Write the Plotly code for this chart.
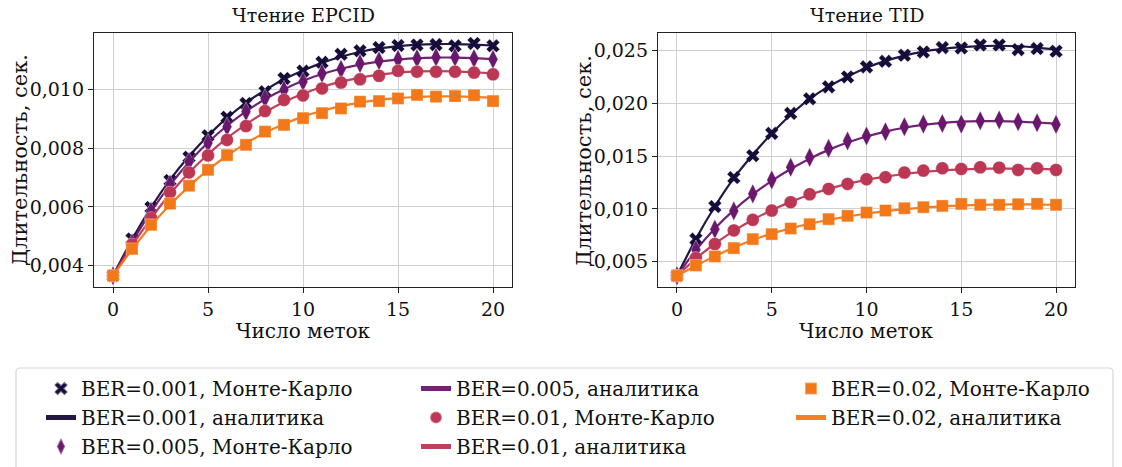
import plotly.graph_objects as go

x_tags = list(range(21))

ber_labels = ["0.001", "0.005", "0.01", "0.02"]
colors = ["#170c3a", "#6a176e", "#bc3754", "#f37819"]
symbols = ["x", "diamond-tall", "circle", "square"]

# Чтение EPCID — Монте-Карло
epcid_mc_0001 = [0.00366, 0.00491, 0.00598, 0.00690, 0.00769, 0.00842, 0.00905, 0.00952, 0.00992, 0.01037, 0.01062,
                 0.01092, 0.01119, 0.01131, 0.01142, 0.01149, 0.01151, 0.01152, 0.01148, 0.01156, 0.01148]
epcid_mc_0005 = [0.00366, 0.00477, 0.00585, 0.00677, 0.00754, 0.00817, 0.00873, 0.00924, 0.00969, 0.00998, 0.01026,
                 0.01054, 0.01068, 0.01088, 0.01097, 0.01102, 0.01105, 0.01109, 0.01109, 0.01105, 0.01102]
epcid_mc_001 = [0.00366, 0.00472, 0.00562, 0.00649, 0.00717, 0.00775, 0.00828, 0.00875, 0.00926, 0.00964, 0.00979,
                0.01003, 0.01023, 0.01034, 0.01046, 0.01063, 0.01060, 0.01060, 0.01060, 0.01057, 0.01051]
epcid_mc_002 = [0.00366, 0.00457, 0.00539, 0.00611, 0.00672, 0.00726, 0.00776, 0.00811, 0.00856, 0.00879, 0.00902,
                0.00919, 0.00935, 0.00958, 0.00960, 0.00969, 0.00981, 0.00975, 0.00977, 0.00980, 0.00960]
# Чтение EPCID — аналитика
epcid_an_0001 = [0.00366, 0.00489, 0.00598, 0.00692, 0.00772, 0.00842, 0.00903, 0.00954, 0.00997, 0.01034, 0.01064,
                 0.01090, 0.01111, 0.01127, 0.01139, 0.01147, 0.01152, 0.01154, 0.01154, 0.01152, 0.01149]
epcid_an_0005 = [0.00366, 0.00480, 0.00583, 0.00674, 0.00752, 0.00819, 0.00876, 0.00925, 0.00966, 0.01000, 0.01029,
                 0.01052, 0.01070, 0.01084, 0.01094, 0.01101, 0.01106, 0.01108, 0.01108, 0.01106, 0.01103]
epcid_an_001 = [0.00366, 0.00468, 0.00561, 0.00644, 0.00716, 0.00779, 0.00834, 0.00881, 0.00922, 0.00957, 0.00985,
                0.01008, 0.01026, 0.01040, 0.01050, 0.01057, 0.01061, 0.01062, 0.01061, 0.01058, 0.01054]
epcid_an_002 = [0.00366, 0.00455, 0.00536, 0.00607, 0.00670, 0.00726, 0.00774, 0.00816, 0.00852, 0.00882, 0.00907,
                0.00927, 0.00943, 0.00955, 0.00964, 0.00970, 0.00974, 0.00976, 0.00976, 0.00974, 0.00971]

# Чтение TID — Монте-Карло
tid_mc_0001 = [0.00368, 0.00714, 0.01022, 0.01296, 0.01503, 0.01714, 0.01903, 0.02041, 0.02154, 0.02248, 0.02343,
               0.02396, 0.02453, 0.02484, 0.02525, 0.02522, 0.02550, 0.02550, 0.02506, 0.02516, 0.02491]
tid_mc_0005 = [0.00368, 0.00613, 0.00808, 0.00981, 0.01142, 0.01274, 0.01393, 0.01487, 0.01572, 0.01642, 0.01689,
               0.01730, 0.01777, 0.01802, 0.01808, 0.01802, 0.01833, 0.01840, 0.01824, 0.01814, 0.01799]
tid_mc_001 = [0.00368, 0.00535, 0.00667, 0.00796, 0.00896, 0.00984, 0.01063, 0.01138, 0.01189, 0.01236, 0.01280,
              0.01299, 0.01343, 0.01362, 0.01384, 0.01377, 0.01393, 0.01390, 0.01368, 0.01384, 0.01368]
tid_mc_002 = [0.00368, 0.00465, 0.00550, 0.00629, 0.00714, 0.00761, 0.00814, 0.00855, 0.00903, 0.00934, 0.00965,
              0.00984, 0.01006, 0.01016, 0.01028, 0.01047, 0.01038, 0.01038, 0.01044, 0.01047, 0.01038]
# Чтение TID — аналитика
tid_an_0001 = [0.00368, 0.00716, 0.01022, 0.01290, 0.01512, 0.01712, 0.01890, 0.02040, 0.02156, 0.02252, 0.02335,
               0.02400, 0.02450, 0.02488, 0.02513, 0.02530, 0.02540, 0.02543, 0.02538, 0.02525, 0.02505]
tid_an_0005 = [0.00368, 0.00610, 0.00815, 0.00988, 0.01136, 0.01265, 0.01377, 0.01475, 0.01558, 0.01627, 0.01684,
               0.01731, 0.01767, 0.01794, 0.01813, 0.01825, 0.01830, 0.01830, 0.01825, 0.01817, 0.01806]
tid_an_001 = [0.00368, 0.00530, 0.00670, 0.00792, 0.00897, 0.00988, 0.01066, 0.01133, 0.01189, 0.01236, 0.01274,
              0.01305, 0.01330, 0.01349, 0.01363, 0.01373, 0.01379, 0.01381, 0.01381, 0.01378, 0.01373]
tid_an_002 = [0.00368, 0.00462, 0.00553, 0.00635, 0.00706, 0.00766, 0.00816, 0.00859, 0.00896, 0.00928, 0.00955,
              0.00978, 0.00997, 0.01012, 0.01024, 0.01032, 0.01038, 0.01041, 0.01042, 0.01041, 0.01039]

epcid_mc = [epcid_mc_0001, epcid_mc_0005, epcid_mc_001, epcid_mc_002]
epcid_an = [epcid_an_0001, epcid_an_0005, epcid_an_001, epcid_an_002]
tid_mc = [tid_mc_0001, tid_mc_0005, tid_mc_001, tid_mc_002]
tid_an = [tid_an_0001, tid_an_0005, tid_an_001, tid_an_002]

FONT = "DejaVu Serif"
W, H = 1122, 467

# legend order: matplotlib fills 3 columns column-major; plotly fills rows
mc_rank = [1, 7, 5, 3]
an_rank = [4, 2, 8, 6]
marker_sizes = [12, 14, 13, 12]

fig = go.Figure()
for panel, (mc_list, an_list, xa, ya) in enumerate([(epcid_mc, epcid_an, "x", "y"), (tid_mc, tid_an, "x2", "y2")]):
    for i in range(4):
        fig.add_trace(go.Scatter(
            x=x_tags, y=mc_list[i], mode="markers", xaxis=xa, yaxis=ya,
            name=f"BER={ber_labels[i]}, Монте-Карло",
            marker=dict(symbol=symbols[i], size=marker_sizes[i], color=colors[i],
                        line=dict(width=1, color="rgba(255,255,255,0.35)")),
            showlegend=(panel == 0), legendrank=mc_rank[i]))
        fig.add_trace(go.Scatter(
            x=x_tags, y=an_list[i], mode="lines", xaxis=xa, yaxis=ya,
            name=f"BER={ber_labels[i]}, аналитика",
            line=dict(color=colors[i], width=2.2, shape="spline", smoothing=0.6),
            opacity=0.95,
            showlegend=(panel == 0), legendrank=an_rank[i]))

axis_common = dict(showline=True, mirror=True, linecolor="#222", linewidth=1.3,
                   ticks="outside", ticklen=5, tickcolor="#222", tickwidth=1.2,
                   showgrid=True, gridcolor="#cfcfcf", gridwidth=1.3, automargin=False,
                   zeroline=False, tickfont=dict(family=FONT, size=19, color="#111"))

L0, L1 = 94 / W, 512 / W
R0, R1 = 658 / W, 1075 / W
B, T = 1 - 287 / H, 1 - 33 / H

fig.update_layout(
    width=W, height=H, margin=dict(l=0, r=0, t=0, b=0, autoexpand=False),
    paper_bgcolor="white", plot_bgcolor="white",
    separators=", ",
    font=dict(family=FONT, size=18, color="#111"),
    xaxis=dict(domain=[L0, L1], range=[-1, 21], tickvals=[0, 5, 10, 15, 20], anchor="y", **axis_common),
    yaxis=dict(domain=[B, T], range=[0.003275, 0.011916], tick0=0.004, dtick=0.002, tickformat=".3f",
               anchor="x", **axis_common),
    xaxis2=dict(domain=[R0, R1], range=[-1, 21], tickvals=[0, 5, 10, 15, 20], anchor="y2", **axis_common),
    yaxis2=dict(domain=[B, T], range=[0.00261, 0.026635], tick0=0.005, dtick=0.005, tickformat=".3f",
                anchor="x2", **axis_common),
    legend=dict(orientation="h", x=41 / W, xanchor="left", y=1 - 369 / H, yanchor="top",
                entrywidth=330, entrywidthmode="pixels",
                borderwidth=0, bgcolor="rgba(0,0,0,0)",
                font=dict(family=FONT, size=20, color="#111"), tracegroupgap=0,
                itemsizing="constant"),
    shapes=[dict(type="path", xref="paper", yref="paper", layer="below",
                 path=f"M {20 / W},{1 - 368 / H} L {1109 / W},{1 - 368 / H} "
                      f"Q {1113 / W},{1 - 368 / H} {1113 / W},{1 - 372 / H} L {1113 / W},{-0.05} "
                      f"L {16 / W},{-0.05} L {16 / W},{1 - 372 / H} Q {16 / W},{1 - 368 / H} {20 / W},{1 - 368 / H} Z",
                 line=dict(color="#d6d6d6", width=1.2), fillcolor="white")],
)

ann = [
    dict(text="Чтение EPCID", x=(94 + 512) / 2 / W, y=1 - 15 / H, size=19),
    dict(text="Чтение TID", x=(658 + 1075) / 2 / W, y=1 - 15 / H, size=19),
    dict(text="Число меток", x=(94 + 512) / 2 / W, y=1 - 331 / H, size=20),
    dict(text="Число меток", x=(658 + 1075) / 2 / W, y=1 - 331 / H, size=20),
    dict(text="Длительность, сек.", x=20 / W, y=1 - 160 / H, textangle=-90, size=21),
    dict(text="Длительность, сек.", x=584 / W, y=1 - 161 / H, textangle=-90, size=21),
]
for a in ann:
    s = a.pop("size")
    fig.add_annotation(xref="paper", yref="paper", xanchor="center", yanchor="middle", showarrow=False,
                       font=dict(family=FONT, size=s, color="#111"), **a)

fig.write_html("out.html")
